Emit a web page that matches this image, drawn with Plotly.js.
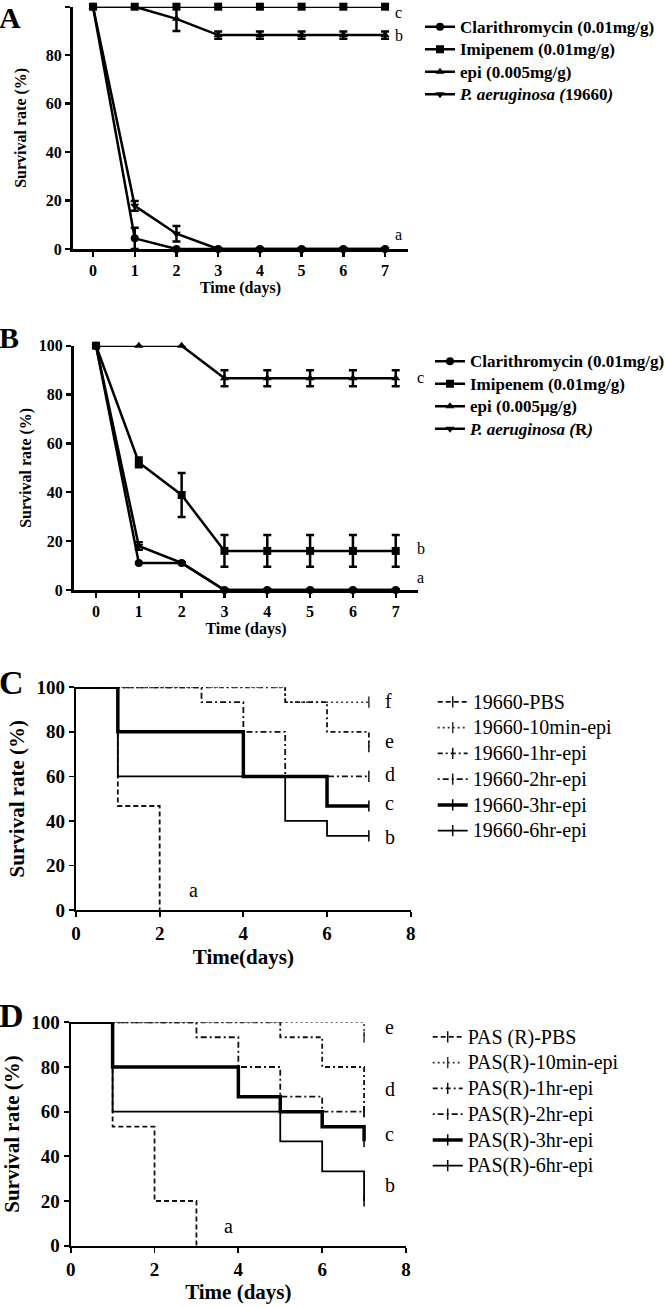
<!DOCTYPE html>
<html><head><meta charset="utf-8">
<script src="https://cdn.plot.ly/plotly-3.0.1.min.js"></script>
<style>html,body{margin:0;padding:0;background:#fff}#chart{width:666px;height:1307px}</style>
</head><body><div id="chart"></div>
<script>
// ---------- Panel A data (ATCC 19660) ----------
const daysAB = [0,1,2,3,4,5,6,7];
const aNames = ['Clarithromycin (0.01mg/g)','Imipenem (0.01mg/g)','epi (0.005mg/g)','<i>P. aeruginosa (</i>19660<i>)</i>'];
const aClari = [100,4.4,0,0,0,0,0,0];
const aClariErr = [0,4.4,0,0,0,0,0,0];
const aImip = [100,100,100,100,100,100,100,100];
const aImipErr = [0,0,0,0,0,0,0,0];
const aEpi = [100,100,95,88.3,88.3,88.3,88.3,88.3];
const aEpiErr = [0,0,5,1.5,1.5,1.5,1.5,1.5];
const aPa = [100,17.8,6.3,0,0,0,0,0];
const aPaErr = [0,2,3.2,0,0,0,0,0];
const aLetters = ['c','b','a'];
const aLetterY = [97.5,88,6];

// ---------- Panel B data (resistant strain) ----------
const bNames = ['Clarithromycin (0.01mg/g)','Imipenem (0.01mg/g)','epi (0.005\u03bcg/g)','<i>P. aeruginosa (</i>R<i>)</i>'];
const bClari = [100,11.1,11.1,0,0,0,0,0];
const bClariErr = [0,0,0,0,0,0,0,0];
const bImip = [100,52.2,38.9,16,16,16,16,16];
const bImipErr = [0,2,9,6.5,6.5,6.5,6.5,6.5];
const bEpi = [100,100,100,86.7,86.7,86.7,86.7,86.7];
const bEpiErr = [0,0,0,3.3,3.3,3.3,3.3,3.3];
const bPa = [100,18,11.1,0,0,0,0,0];
const bPaErr = [0,1.5,0,0,0,0,0,0];
const bLetters = ['c','b','a'];
const bLetterY = [87,17,5];

// ---------- Panel C data (Kaplan-Meier, 19660) ----------
const cNames = ['19660-PBS','19660-10min-epi','19660-1hr-epi','19660-2hr-epi','19660-3hr-epi','19660-6hr-epi'];
const cPbsX = [0,1,2],          cPbsY = [100,46.7,0];
const c10mX = [0,5,7],          c10mY = [100,93.3,93.3];
const c1hX  = [0,5,6,7],        c1hY  = [100,93.3,80,73.3];
const c2hX  = [0,3,4,5,7],      c2hY  = [100,93.3,80,60,60];
const c3hX  = [0,1,4,6,7],      c3hY  = [100,80,60,46.7,46.7];
const c6hX  = [0,1,5,6,7],      c6hY  = [100,60,40,33.3,33.3];
const cLetters = ['f','e','d','c','b','a'];
const cLetterX = [7.34,7.34,7.34,7.34,7.34,2.65];
const cLetterY = [94,76,61,48,33,9];

// ---------- Panel D data (Kaplan-Meier, PAS(R)) ----------
const dNames = ['PAS (R)-PBS','PAS(R)-10min-epi','PAS(R)-1hr-epi','PAS(R)-2hr-epi','PAS(R)-3hr-epi','PAS(R)-6hr-epi'];
const dPbsX = [0,1,2,3],        dPbsY = [100,53.3,20,0];
const d10mX = [0,7],            d10mY = [100,93.3];
const d1hX  = [0,5,6,7],        d1hY  = [100,93.3,80,60];
const d2hX  = [0,3,4,5,6,7],    d2hY  = [100,93.3,80,66.7,60,60];
const d3hX  = [0,1,4,5,6,7],    d3hY  = [100,80,66.7,60,53.3,46.7];
const d6hX  = [0,1,5,6,7],      d6hY  = [100,60,46.7,33.3,20];
const dLetters = ['e','d','c','b','a'];
const dLetterX = [7.45,7.45,7.45,7.45,3.6];
const dLetterY = [98,70,50,27,9];

// ---------- helpers ----------
const W = 666, H = 1307;
const px = p => p / W;
const py = p => 1 - p / H;
const SERIF = 'Liberation Serif, Times New Roman, serif';
const BLACK = '#000';

// larger legend text than the row pitch implies (reference legend is tightly packed)
const big = (t, fs) => '<span style="font-size:' + fs + 'px">' + t + '</span>';

function abTrace(y, err, name, symbol, xa, ya, leg){
  return {type:'scatter', mode:'lines+markers', x: daysAB, y: y, name: big(name, 17),
    xaxis: xa, yaxis: ya, legend: leg, cliponaxis: false,
    line:{color:BLACK, width:2.5},
    marker:{symbol: symbol, size: 8, color: BLACK},
    error_y:{type:'data', array: err, visible: true, color: BLACK, thickness: 2.5, width: 4}};
}

function kmTrace(x, y, name, dash, width, xa, ya, leg, color){
  const last = x.length - 1;
  return {type:'scatter', mode:'lines+markers', x: x, y: y, name: big(name, 20),
    xaxis: xa, yaxis: ya, legend: leg, cliponaxis: false,
    line:{shape:'hv', dash: dash, width: width, color: color},
    marker:{symbol:'line-ns-open', size: 8, color: color, line:{width: 1.5, color: color}},
    selectedpoints: y[last] > 0 ? [last] : [],
    selected:{marker:{opacity:1}}, unselected:{marker:{opacity:0}}};
}

const traces = [
  abTrace(aClari, aClariErr, aNames[0], 'circle', 'x', 'y', 'legend'),
  abTrace(aImip,  aImipErr,  aNames[1], 'square', 'x', 'y', 'legend'),
  abTrace(aEpi,   aEpiErr,   aNames[2], 'triangle-up', 'x', 'y', 'legend'),
  abTrace(aPa,    aPaErr,    aNames[3], 'triangle-down', 'x', 'y', 'legend'),

  abTrace(bClari, bClariErr, bNames[0], 'circle', 'x2', 'y2', 'legend2'),
  abTrace(bImip,  bImipErr,  bNames[1], 'square', 'x2', 'y2', 'legend2'),
  abTrace(bEpi,   bEpiErr,   bNames[2], 'triangle-up', 'x2', 'y2', 'legend2'),
  abTrace(bPa,    bPaErr,    bNames[3], 'triangle-down', 'x2', 'y2', 'legend2'),

  kmTrace(cPbsX, cPbsY, cNames[0], '5px,3px', 1.8, 'x3', 'y3', 'legend3', '#111'),
  kmTrace(c10mX, c10mY, cNames[1], '2px,3px', 1.6, 'x3', 'y3', 'legend3', '#333'),
  kmTrace(c1hX,  c1hY,  cNames[2], '5px,3px,2px,3px', 1.8, 'x3', 'y3', 'legend3', '#111'),
  kmTrace(c2hX,  c2hY,  cNames[3], '2px,3px,6px,3px', 1.8, 'x3', 'y3', 'legend3', '#111'),
  kmTrace(c3hX,  c3hY,  cNames[4], 'solid', 3.5, 'x3', 'y3', 'legend3', BLACK),
  kmTrace(c6hX,  c6hY,  cNames[5], 'solid', 1.8, 'x3', 'y3', 'legend3', BLACK),

  kmTrace(dPbsX, dPbsY, dNames[0], '5px,3px', 1.8, 'x4', 'y4', 'legend4', '#111'),
  kmTrace(d10mX, d10mY, dNames[1], '2px,3px', 1.6, 'x4', 'y4', 'legend4', '#333'),
  kmTrace(d1hX,  d1hY,  dNames[2], '5px,3px,2px,3px', 1.8, 'x4', 'y4', 'legend4', '#111'),
  kmTrace(d2hX,  d2hY,  dNames[3], '2px,3px,6px,3px', 1.8, 'x4', 'y4', 'legend4', '#111'),
  kmTrace(d3hX,  d3hY,  dNames[4], 'solid', 3.5, 'x4', 'y4', 'legend4', BLACK),
  kmTrace(d6hX,  d6hY,  dNames[5], 'solid', 1.8, 'x4', 'y4', 'legend4', BLACK)
];

function xAxis(domain, range, dtick, anchor, tfs, lw, title, titleFs, standoff){
  return {domain: domain, range: range, anchor: anchor, dtick: dtick, tick0: 0,
    showgrid:false, zeroline:false, showline:true, linecolor:BLACK, linewidth: lw,
    ticks:'outside', ticklen: 5, tickwidth: lw*0.8, tickcolor: BLACK, fixedrange:true,
    tickfont:{family:SERIF, size: tfs, color:BLACK, weight:700},
    title:{text: title, standoff: standoff, font:{family:SERIF, size: titleFs, color:BLACK, weight:700}}};
}
function yAxis(domain, anchor, tfs, lw, title, titleFs, standoff){
  return {domain: domain, range:[0,100], anchor: anchor, dtick: 20, tick0: 0,
    showgrid:false, zeroline:false, showline:true, linecolor:BLACK, linewidth: lw,
    ticks:'outside', ticklen: 5, tickwidth: lw*0.8, tickcolor: BLACK, fixedrange:true,
    tickfont:{family:SERIF, size: tfs, color:BLACK, weight:700},
    title:{text: title, standoff: standoff, font:{family:SERIF, size: titleFs, color:BLACK, weight:700}}};
}

const annotations = [];
function panelLetter(t, xpx, ypx, fs){
  annotations.push({text:t, xref:'paper', yref:'paper', x: px(xpx), y: py(ypx), xanchor:'left', yanchor:'top',
    borderpad:0, showarrow:false, font:{family:SERIF, size: fs, color:BLACK, weight:700}});
}
panelLetter('A', -2, 0, 30);
panelLetter('B', -2, 320, 30);
panelLetter('C', -2, 663, 34);
panelLetter('D', -2, 996, 34);

function groupLetters(letters, xs, ys, xr, yr, fs){
  letters.forEach((t,i)=> annotations.push({text:t, xref:xr, yref:yr, x: xs[i], y: ys[i],
    xanchor:'left', yanchor:'middle', showarrow:false, font:{family:SERIF, size: fs, color:BLACK}}));
}
groupLetters(aLetters, aLetters.map(()=>7.2), aLetterY, 'x', 'y', 16);
groupLetters(bLetters, bLetters.map(()=>7.45), bLetterY, 'x2', 'y2', 16);
groupLetters(cLetters, cLetterX, cLetterY, 'x3', 'y3', 20);
groupLetters(dLetters, dLetterX, dLetterY, 'x4', 'y4', 20);

function legendBox(xpx, ypx, fs, weight){
  return {x: px(xpx), y: py(ypx), xanchor:'left', yanchor:'top', bgcolor:'rgba(0,0,0,0)',
    borderwidth:0, itemwidth:30, itemsizing:'trace', itemclick:false, itemdoubleclick:false,
    font:{family:SERIF, size: fs, color:BLACK, weight: weight}};
}

const layout = {
  width: W, height: H, margin:{l:0, r:0, t:0, b:0, autoexpand:false},
  paper_bgcolor:'#fff', plot_bgcolor:'rgba(0,0,0,0)', showlegend: true,
  xaxis:  xAxis([px(73), px(408)], [-0.48, 7.55], 1, 'y', 16, 3, 'Time (days)', 16, 4),
  yaxis:  yAxis([py(249), py(6.7)], 'x', 16, 3, 'Survival rate (%)', 16, 16),
  xaxis2: xAxis([px(74), px(418)], [-0.514, 7.52], 1, 'y2', 16, 3, 'Time (days)', 16, 4),
  yaxis2: yAxis([py(590), py(345.7)], 'x2', 16, 3, 'Survival rate (%)', 16, 4),
  xaxis3: xAxis([px(76), px(410.7)], [0, 8], 2, 'y3', 19, 2.2, 'Time(days)', 21, 6),
  yaxis3: yAxis([py(910), py(687.3)], 'x3', 19, 2.2, 'Survival rate (%)', 21, 6),
  xaxis4: xAxis([px(70.7), px(406)], [0, 8], 2, 'y4', 19, 2.2, 'Time (days)', 21, 6),
  yaxis4: yAxis([py(1245.7), py(1022.3)], 'x4', 19, 2.2, 'Survival rate (%)', 21, 6),
  legend:  legendBox(420, 10.5, 15, 700),
  legend2: legendBox(430, 345, 15, 700),
  legend3: legendBox(432.7, 684, 17.5, 400),
  legend4: legendBox(427.7, 1019, 17.5, 400),
  annotations: annotations
};

Plotly.newPlot('chart', traces, layout, {staticPlot:true, displayModeBar:false});
</script>
</body></html>
